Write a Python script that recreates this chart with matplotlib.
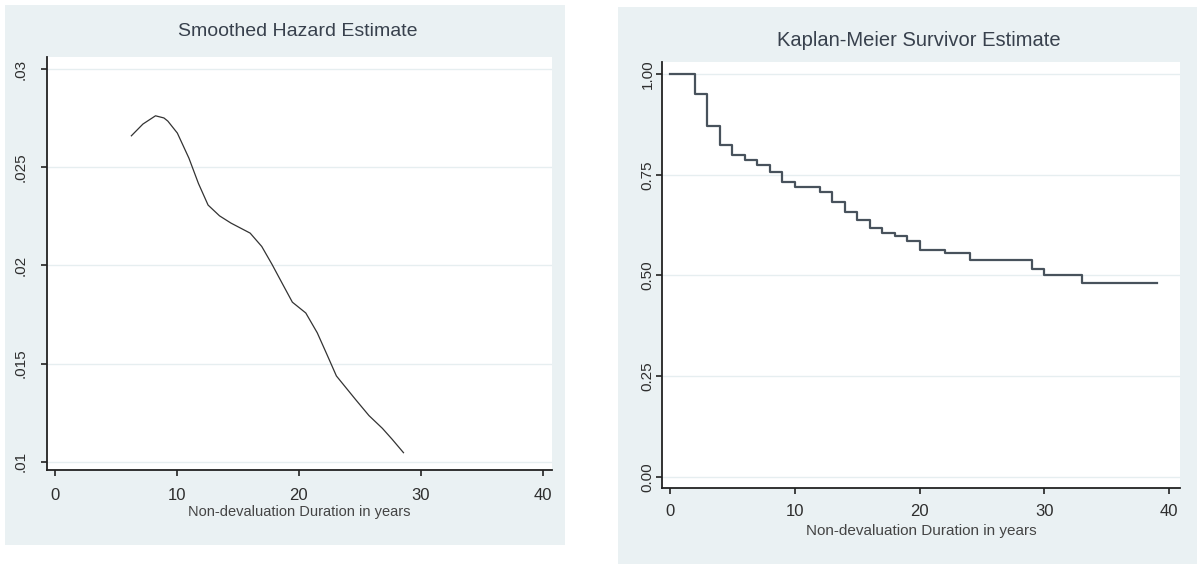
import matplotlib
matplotlib.use("Agg")
import matplotlib.pyplot as plt
from matplotlib.patches import Rectangle

# ---------------- data ----------------
hazard_t = [6.28, 7.23, 8.26, 8.95, 9.27, 10.05, 11.0, 11.78, 12.57, 13.51,
            14.45, 16.02, 16.97, 17.81, 18.69, 19.48, 20.58, 21.52, 22.31,
            23.09, 24.66, 25.76, 26.86, 27.65, 28.59]
hazard_v = [0.02661, 0.02721, 0.02763, 0.02752, 0.02736, 0.02675, 0.02547,
            0.02418, 0.02308, 0.02253, 0.02216, 0.02165, 0.02097, 0.02006,
            0.01904, 0.01813, 0.01758, 0.01657, 0.01547, 0.01437, 0.01317,
            0.01235, 0.01170, 0.01115, 0.01046]

km_t = [0, 2, 3, 4, 5, 6, 7, 8, 9, 10, 12, 13, 14, 15, 16, 17, 18, 19, 20,
        22, 24, 29, 30, 33, 39]
km_s = [1.0, 0.951, 0.872, 0.823, 0.799, 0.786, 0.774, 0.756, 0.732, 0.720,
        0.707, 0.683, 0.658, 0.638, 0.618, 0.606, 0.597, 0.585, 0.5625,
        0.555, 0.539, 0.515, 0.500, 0.482, 0.482]

x_ticks = [0, 10, 20, 30, 40]
haz_yticks = [0.01, 0.015, 0.02, 0.025, 0.03]
haz_ylabels = [".01", ".015", ".02", ".025", ".03"]
km_yticks = [0.0, 0.25, 0.5, 0.75, 1.0]
km_ylabels = ["0.00", "0.25", "0.50", "0.75", "1.00"]

title_left = "Smoothed Hazard Estimate"
title_right = "Kaplan-Meier Survivor Estimate"
xlabel = "Non-devaluation Duration in years"

# ---------------- style ----------------
W, H = 1197, 564
BG = "#eaf1f3"
GRID = "#e6eef0"
AX = "#222222"
TXT = "#2e2e2e"
TITLE = "#38414d"
REG = ["Liberation Sans", "DejaVu Sans"]

fig = plt.figure(figsize=(W / 100, H / 100), dpi=100)
fig.patch.set_facecolor("white")


def px_rect(x0, y0, x1, y1):
    return (x0 / W, 1 - y1 / H, (x1 - x0) / W, (y1 - y0) / H)


for (x0, y0, x1, y1) in [(5, 5, 565, 545), (618, 7, 1197, 564)]:
    l, b, w, h = px_rect(x0, y0, x1, y1)
    fig.add_artist(Rectangle((l, b), w, h, transform=fig.transFigure,
                             facecolor=BG, edgecolor="none", zorder=0))

axL = fig.add_axes(px_rect(46.7, 56.7, 551.7, 470))
axR = fig.add_axes(px_rect(661.7, 61.7, 1180, 488.3))

for ax in (axL, axR):
    ax.set_facecolor("white")
    for s in ("top", "right"):
        ax.spines[s].set_visible(False)
    for s in ("left", "bottom"):
        ax.spines[s].set_color(AX)
        ax.spines[s].set_linewidth(1.3)
    ax.set_xticks(x_ticks)
    ax.set_xticklabels([str(t) for t in x_ticks], family=REG, fontsize=12,
                       color=TXT)
    ax.tick_params(axis="both", direction="out", length=4, width=1.2,
                   color=AX)

# left: smoothed hazard
axL.set_xlim(-0.66, 40.74)
axL.set_ylim(0.009577, 0.030642)
axL.set_yticks(haz_yticks)
axL.set_yticklabels(haz_ylabels, rotation=90, va="center", family=REG,
                    fontsize=11, color=TXT)
axL.tick_params(axis="x", pad=9)
axL.tick_params(axis="y", pad=10)
for v in haz_yticks:
    axL.axhline(v, color=GRID, lw=1.0, zorder=0.5)
axL.plot(hazard_t, hazard_v, color="#333333", lw=0.9, zorder=3)

# right: Kaplan-Meier
axR.set_xlim(-0.67, 40.87)
axR.set_ylim(-0.0288, 1.031)
axR.set_yticks(km_yticks)
axR.set_yticklabels(km_ylabels, rotation=90, va="center", family=REG,
                    fontsize=11, color=TXT)
axR.tick_params(axis="x", pad=7)
axR.tick_params(axis="y", pad=1)
for v in km_yticks:
    axR.axhline(v, color=GRID, lw=1.0, zorder=0.5)
axR.step(km_t, km_s, where="post", color="#48525c", lw=1.6, zorder=3)

# titles and axis titles
fig.text(298 / W, 1 - 31.7 / H, title_left, ha="center", va="center",
         family=REG, fontsize=14, color=TITLE)
fig.text(919 / W, 1 - 40 / H, title_right, ha="center", va="center",
         family=REG, fontsize=14.5, color=TITLE)
fig.text(299 / W, 1 - 512 / H, xlabel, ha="center", va="center",
         family=REG, fontsize=10.5, color="#444444")
fig.text(921 / W, 1 - 531 / H, xlabel, ha="center", va="center",
         family=REG, fontsize=11, color="#444444")

fig.savefig("out.png", dpi=100, facecolor="white")
